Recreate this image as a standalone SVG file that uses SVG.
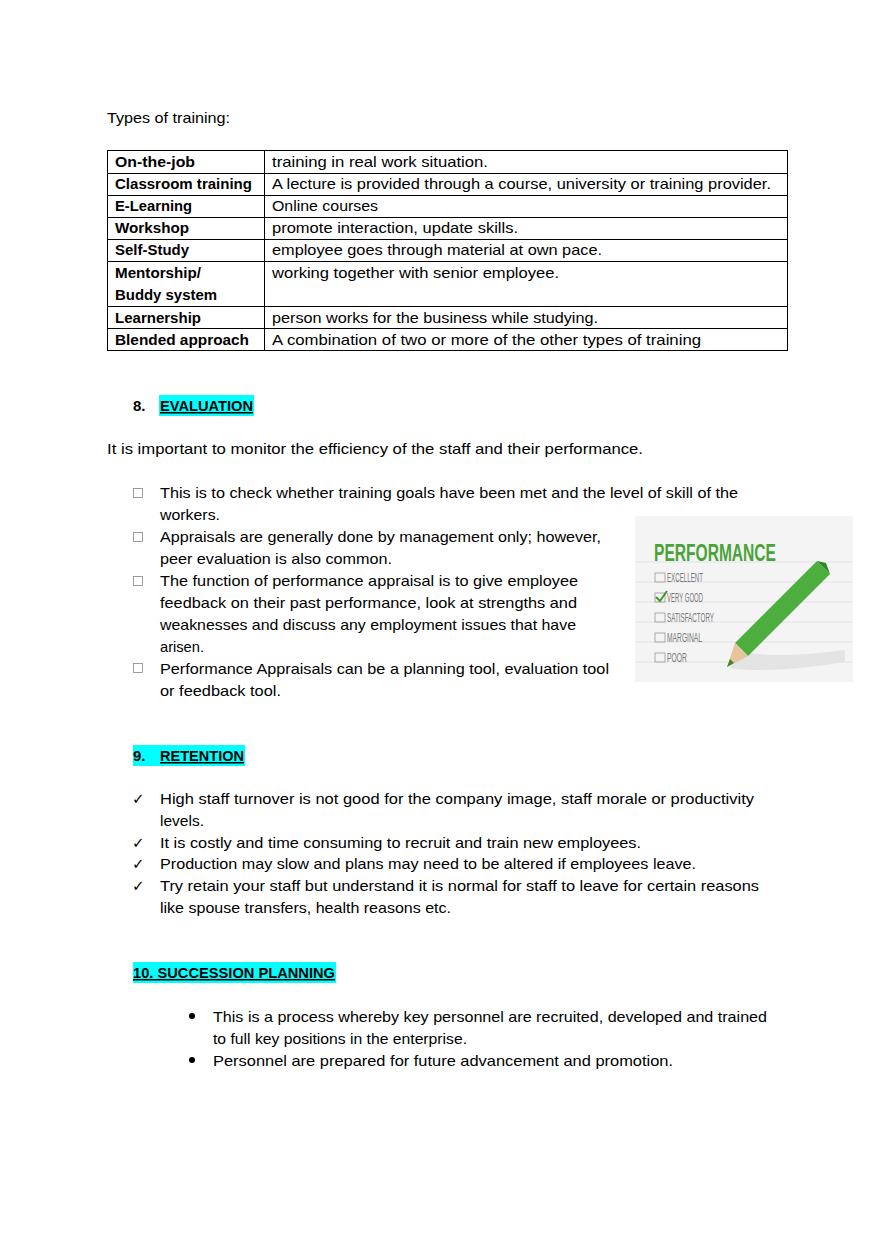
<svg xmlns="http://www.w3.org/2000/svg" width="880" height="1244" viewBox="0 0 880 1244">
<style>
text{font-family:"Liberation Sans","Open Sans",sans-serif;font-size:15px;fill:#000}
.b{font-weight:bold}
.hl{fill:#00ffff}
.ln{stroke:#000;stroke-width:1;fill:none}
.box{fill:none;stroke:#888;stroke-width:0.8}
text.pt{font-family:"Liberation Sans Narrow","Liberation Sans",sans-serif;font-size:12px;fill:#7a7a7a}
text.perf{font-family:"Liberation Sans Narrow","Liberation Sans",sans-serif;font-weight:bold;font-size:18px;fill:#4aa33a}
</style>
<rect width="880" height="1244" fill="#fff"/>
<text x="107" y="123" textLength="123" lengthAdjust="spacingAndGlyphs">Types of training:</text>
<g id="table">
<rect x="107.5" y="150.5" width="680" height="200" class="ln"/>
<line x1="264.5" y1="150" x2="264.5" y2="350" class="ln"/>
<g class="ln">
<line x1="107" y1="173.5" x2="787" y2="173.5"/>
<line x1="107" y1="195.5" x2="787" y2="195.5"/>
<line x1="107" y1="217.5" x2="787" y2="217.5"/>
<line x1="107" y1="239.5" x2="787" y2="239.5"/>
<line x1="107" y1="261.5" x2="787" y2="261.5"/>
<line x1="107" y1="306.5" x2="787" y2="306.5"/>
<line x1="107" y1="328.5" x2="787" y2="328.5"/>
</g>
<text x="115" y="167" class="b" textLength="80" lengthAdjust="spacingAndGlyphs">On-the-job</text><text x="272" y="167" textLength="216" lengthAdjust="spacingAndGlyphs">training in real work situation.</text>
<text x="115" y="189" class="b" textLength="137" lengthAdjust="spacingAndGlyphs">Classroom training</text><text x="272" y="189" textLength="499" lengthAdjust="spacingAndGlyphs">A lecture is provided through a course, university or training provider.</text>
<text x="115" y="211" class="b" textLength="77" lengthAdjust="spacingAndGlyphs">E-Learning</text><text x="272" y="211" textLength="106" lengthAdjust="spacingAndGlyphs">Online courses</text>
<text x="115" y="233" class="b" textLength="74" lengthAdjust="spacingAndGlyphs">Workshop</text><text x="272" y="233" textLength="246" lengthAdjust="spacingAndGlyphs">promote interaction, update skills.</text>
<text x="115" y="255" class="b" textLength="74" lengthAdjust="spacingAndGlyphs">Self-Study</text><text x="272" y="255" textLength="330" lengthAdjust="spacingAndGlyphs">employee goes through material at own pace.</text>
<text x="115" y="278" class="b" textLength="86" lengthAdjust="spacingAndGlyphs">Mentorship/</text><text x="272" y="278" textLength="287" lengthAdjust="spacingAndGlyphs">working together with senior employee.</text>
<text x="115" y="300" class="b" textLength="102" lengthAdjust="spacingAndGlyphs">Buddy system</text>
<text x="115" y="323" class="b" textLength="86" lengthAdjust="spacingAndGlyphs">Learnership</text><text x="272" y="323" textLength="326" lengthAdjust="spacingAndGlyphs">person works for the business while studying.</text>
<text x="115" y="345" class="b" textLength="134" lengthAdjust="spacingAndGlyphs">Blended approach</text><text x="272" y="345" textLength="429" lengthAdjust="spacingAndGlyphs">A combination of two or more of the other types of training</text>
</g>
<g id="evaluation">
<rect x="159" y="395" width="95" height="21" class="hl"/>
<text x="133" y="411" class="b">8.</text>
<text x="160" y="411" class="b" text-decoration="underline" textLength="93" lengthAdjust="spacingAndGlyphs">EVALUATION</text>
<text x="107" y="454" textLength="536" lengthAdjust="spacingAndGlyphs">It is important to monitor the efficiency of the staff and their performance.</text>
<g class="box">
<rect x="133.5" y="488.5" width="9" height="9"/>
<rect x="133.5" y="532.5" width="9" height="9"/>
<rect x="133.5" y="576.5" width="9" height="9"/>
<rect x="133.5" y="663.5" width="9" height="9"/>
</g>
<text x="160" y="498" textLength="578" lengthAdjust="spacingAndGlyphs">This is to check whether training goals have been met and the level of skill of the</text>
<text x="160" y="520" textLength="60" lengthAdjust="spacingAndGlyphs">workers.</text>
<text x="160" y="542" textLength="441" lengthAdjust="spacingAndGlyphs">Appraisals are generally done by management only; however,</text>
<text x="160" y="564" textLength="232" lengthAdjust="spacingAndGlyphs">peer evaluation is also common.</text>
<text x="160" y="586" textLength="418" lengthAdjust="spacingAndGlyphs">The function of performance appraisal is to give employee</text>
<text x="160" y="608" textLength="417" lengthAdjust="spacingAndGlyphs">feedback on their past performance, look at strengths and</text>
<text x="160" y="630" textLength="416" lengthAdjust="spacingAndGlyphs">weaknesses and discuss any employment issues that have</text>
<text x="160" y="652" textLength="44" lengthAdjust="spacingAndGlyphs">arisen.</text>
<text x="160" y="674" textLength="449" lengthAdjust="spacingAndGlyphs">Performance Appraisals can be a planning tool, evaluation tool</text>
<text x="160" y="696" textLength="121" lengthAdjust="spacingAndGlyphs">or feedback tool.</text>
</g>
<g id="image">
<rect x="635" y="516" width="218" height="166" fill="#f4f4f4"/>
<g stroke="#e2e2e2" stroke-width="1">
<line x1="635" y1="562" x2="853" y2="562"/><line x1="635" y1="582" x2="853" y2="582"/>
<line x1="635" y1="602" x2="853" y2="602"/><line x1="635" y1="622" x2="853" y2="622"/>
<line x1="635" y1="642" x2="853" y2="642"/><line x1="635" y1="662" x2="853" y2="662"/>
</g>
<text x="0" y="0" class="perf" transform="translate(654 561) scale(1 1.35)" textLength="122" lengthAdjust="spacingAndGlyphs">PERFORMANCE</text>
<g fill="none" stroke="#999" stroke-width="0.8">
<rect x="655" y="573" width="10" height="9"/><rect x="655" y="593" width="10" height="9"/>
<rect x="655" y="613" width="10" height="9"/><rect x="655" y="633" width="10" height="9"/>
<rect x="655" y="653" width="10" height="9"/>
</g>
<path d="M656 597 L660 601 L667 591" stroke="#3a9a2a" stroke-width="2" fill="none"/>
<text x="667" y="582" class="pt" textLength="36" lengthAdjust="spacingAndGlyphs">EXCELLENT</text>
<text x="667" y="602" class="pt" textLength="36" lengthAdjust="spacingAndGlyphs">VERY GOOD</text>
<text x="667" y="622" class="pt" textLength="47" lengthAdjust="spacingAndGlyphs">SATISFACTORY</text>
<text x="667" y="642" class="pt" textLength="35" lengthAdjust="spacingAndGlyphs">MARGINAL</text>
<text x="667" y="662" class="pt" textLength="20" lengthAdjust="spacingAndGlyphs">POOR</text>
<path d="M735 650 Q770 660 845 650 L845 662 Q770 674 730 668 Z" fill="#e4e4e4"/>
<polygon points="735,643 817,561 830,574 748,656" fill="#4cae3c"/>
<polygon points="817,561 830,574 826,563" fill="#2e8a26"/>
<polygon points="735,643 748,656 727,667" fill="#e8c49a"/>
<polygon points="730,659 734,663 727,667" fill="#3a8a2a"/>
</g>
<g id="retention">
<rect x="133" y="745" width="112" height="21" class="hl"/>
<text x="133" y="761" class="b">9.</text>
<text x="160" y="761" class="b" text-decoration="underline" textLength="84" lengthAdjust="spacingAndGlyphs">RETENTION</text>
<g>
<text x="132" y="804" style="font-family:'DejaVu Sans',sans-serif;font-size:15px">✓</text>
<text x="132" y="848" style="font-family:'DejaVu Sans',sans-serif;font-size:15px">✓</text>
<text x="132" y="869" style="font-family:'DejaVu Sans',sans-serif;font-size:15px">✓</text>
<text x="132" y="891" style="font-family:'DejaVu Sans',sans-serif;font-size:15px">✓</text>
</g>
<text x="160" y="804" textLength="594" lengthAdjust="spacingAndGlyphs">High staff turnover is not good for the company image, staff morale or productivity</text>
<text x="160" y="826" textLength="44" lengthAdjust="spacingAndGlyphs">levels.</text>
<text x="160" y="848" textLength="481" lengthAdjust="spacingAndGlyphs">It is costly and time consuming to recruit and train new employees.</text>
<text x="160" y="869" textLength="536" lengthAdjust="spacingAndGlyphs">Production may slow and plans may need to be altered if employees leave.</text>
<text x="160" y="891" textLength="599" lengthAdjust="spacingAndGlyphs">Try retain your staff but understand it is normal for staff to leave for certain reasons</text>
<text x="160" y="913" textLength="291" lengthAdjust="spacingAndGlyphs">like spouse transfers, health reasons etc.</text>
</g>
<g id="succession">
<rect x="133" y="962" width="203" height="21" class="hl"/>
<text x="133" y="978" class="b" text-decoration="underline" textLength="202" lengthAdjust="spacingAndGlyphs">10. SUCCESSION PLANNING</text>
<circle cx="192" cy="1016" r="3"/>
<circle cx="192" cy="1060" r="3"/>
<text x="213" y="1022" textLength="554" lengthAdjust="spacingAndGlyphs">This is a process whereby key personnel are recruited, developed and trained</text>
<text x="213" y="1044" textLength="254" lengthAdjust="spacingAndGlyphs">to full key positions in the enterprise.</text>
<text x="213" y="1066" textLength="460" lengthAdjust="spacingAndGlyphs">Personnel are prepared for future advancement and promotion.</text>
</g>
</svg>
